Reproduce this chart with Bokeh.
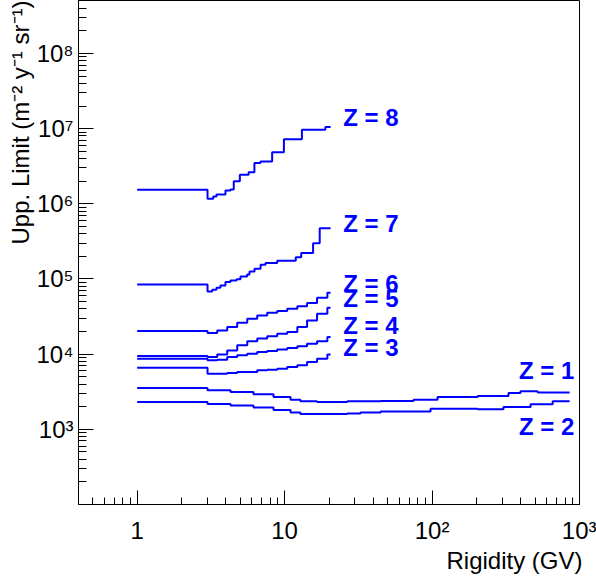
import math
from bokeh.plotting import figure
from bokeh.models import FixedTicker, Range1d, Title
from bokeh.core.properties import value
from bokeh.embed import file_html
from bokeh.resources import INLINE

# ---------------- data ----------------
x_lo, x_hi = 0.4, 1000.0
y_lo, y_hi = 100.0, 5.07e8

x_major = [1, 10, 100, 1000]
x_major_labels = ["1", "10", "10²", "10³"]
y_major = [1e3, 1e4, 1e5, 1e6, 1e7, 1e8]
y_major_labels = ["10³", "10⁴", "10⁵", "10⁶", "10⁷", "10⁸"]

x_title = "Rigidity (GV)"
y_title = "Upp. Limit (m⁻² y⁻¹ sr⁻¹)"

z8_edges = [1, 3.0, 3.28, 3.45, 3.97, 4.29, 4.52, 4.97, 5.7, 6.24, 6.86, 8.23, 9.89, 13.1, 18.9, 20.5]
z8_vals = [1.54e6, 1.17e6, 1.25e6, 1.33e6, 1.51e6, 1.55e6, 1.99e6, 2.44e6, 2.63e6, 3.48e6,
           3.66e6, 4.86e6, 7.24e6, 9.66e6, 1.05e7]

z7_edges = [1, 3.0, 3.23, 3.45, 3.67, 3.97, 4.29, 4.72, 5.02, 5.57, 5.78, 6.25, 6.87, 7.42,
            8.91, 11.9, 12.96, 15.6, 17.3, 20.5]
z7_vals = [8.47e4, 6.84e4, 7.21e4, 7.66e4, 8.22e4, 9.10e4, 9.57e4, 9.89e4, 1.08e5, 1.15e5,
           1.26e5, 1.37e5, 1.55e5, 1.63e5, 1.75e5, 1.95e5, 2.21e5, 3.00e5, 4.75e5]

mid_edges = [1, 3.0, 3.49, 4.08, 4.77, 5.58, 6.52, 7.62, 8.91, 10.42, 12.2, 14.2, 16.6, 19.5, 20.5]
z6_vals = [2.03e4, 1.91e4, 2.07e4, 2.30e4, 2.62e4, 2.96e4, 3.28e4, 3.56e4, 3.75e4, 4.03e4,
           4.33e4, 4.79e4, 5.64e4, 6.56e4]
z5_vals = [9440, 9160, 9930, 1.12e4, 1.31e4, 1.48e4, 1.61e4, 1.73e4, 1.87e4, 1.97e4,
           2.30e4, 2.81e4, 3.45e4, 4.15e4]
z4_vals = [8710, 8280, 8430, 9160, 9640, 1.01e4, 1.07e4, 1.10e4, 1.15e4, 1.21e4,
           1.27e4, 1.38e4, 1.49e4, 1.69e4]
z3_vals = [6610, 5500, 5500, 5610, 5780, 5780, 6100, 6220, 6410, 6750,
           7100, 7870, 8710, 9930]

z1_edges = [1, 3.0, 4.3, 6.15, 8.41, 10.97, 12.8, 16.6, 26.6, 44.8, 74.9, 109, 204, 330, 398, 520, 857]
z1_vals = [3540, 3300, 3130, 2920, 2690, 2480, 2360, 2310, 2360, 2380, 2480, 2690, 2770,
           3040, 3200, 3100]

z2_edges = [1, 3.0, 4.3, 6.15, 8.41, 10.97, 12.8, 26.6, 32.7, 44.8, 97.7, 204, 305, 466, 658, 857]
z2_vals = [2310, 2170, 2080, 1950, 1810, 1680, 1600, 1630, 1670, 1730, 1880, 1850, 1980,
           2150, 2360]

label_names = ["Z = 8", "Z = 7", "Z = 6", "Z = 5", "Z = 4", "Z = 3", "Z = 1", "Z = 2"]
label_x = [25.0, 25.0, 25.0, 25.0, 25.0, 25.0, 388.0, 388.0]
label_y = [1.39e7, 5.43e5, 8.73e4, 5.52e4, 2.42e4, 1.23e4, 6.1e3, 1.10e3]

# ---------------- figure ----------------
FONT = "Liberation Sans"
BLUE = "#0000ff"

p = figure(x_axis_type="log", y_axis_type="log",
           x_range=Range1d(x_lo, x_hi), y_range=Range1d(y_lo, y_hi),
           frame_width=501, frame_height=504,
           min_border_left=78, min_border_right=17, min_border_top=0, min_border_bottom=72,
           output_backend="svg", toolbar_location=None)
p.background_fill_color = "white"
p.border_fill_color = "white"
p.outline_line_color = "black"
p.outline_line_width = 1
p.xgrid.visible = False
p.ygrid.visible = False

x_minor = [m * 10.0 ** k for k in range(-1, 3) for m in range(2, 10) if m * 10.0 ** k >= x_lo]
y_minor = [m * 10.0 ** k for k in range(2, 9) for m in range(2, 10) if m * 10.0 ** k <= y_hi]
p.xaxis.ticker = FixedTicker(ticks=x_major, minor_ticks=x_minor)
p.yaxis.ticker = FixedTicker(ticks=y_major, minor_ticks=y_minor)
p.xaxis.major_label_overrides = {t: s for t, s in zip(x_major, x_major_labels)}
p.yaxis.major_label_overrides = {t: s for t, s in zip(y_major, y_major_labels)}

for ax, maj, mnr in ((p.xaxis, 14, 7), (p.yaxis, 15, 8)):
    ax.major_tick_in = maj
    ax.major_tick_out = 0
    ax.minor_tick_in = mnr
    ax.minor_tick_out = 0
    ax.major_tick_line_color = "black"
    ax.minor_tick_line_color = "black"
    ax.axis_line_color = "black"
    ax.major_label_text_color = "black"
    ax.major_label_text_font = FONT
    ax.major_label_text_font_size = "24px"
p.xaxis.major_label_standoff = 12
p.xaxis.major_label_text_line_height = 0.75
p.yaxis.major_label_standoff = 5

# axis titles, right/top aligned at the end of the axes (ROOT style)
p.add_layout(Title(text=x_title, align="right", vertical_align="top", text_font=FONT,
                   text_font_size="24px", text_font_style="normal", text_color="black",
                   standoff=0, offset=-3), "below")
p.add_layout(Title(text=y_title, align="right", text_font=FONT, text_font_size="24px",
                   text_font_style="normal", text_color="black", standoff=0, offset=0), "left")


def stairs(edges, vals):
    xs, ys = [], []
    for i, v in enumerate(vals):
        xs += [edges[i], edges[i + 1]]
        ys += [v, v]
    return xs, ys


for e, v in ((z8_edges, z8_vals), (z7_edges, z7_vals), (mid_edges, z6_vals), (mid_edges, z5_vals),
             (mid_edges, z4_vals), (mid_edges, z3_vals), (z1_edges, z1_vals), (z2_edges, z2_vals)):
    xs, ys = stairs(e, v)
    p.line(xs, ys, line_color=BLUE, line_width=2)

p.text(x=label_x, y=label_y, text=label_names, text_color=BLUE,
       text_font=value(FONT), text_font_size="24px", text_font_style="bold",
       text_baseline="middle", text_align="left")

open("out.html", "w").write(file_html(p, INLINE))
